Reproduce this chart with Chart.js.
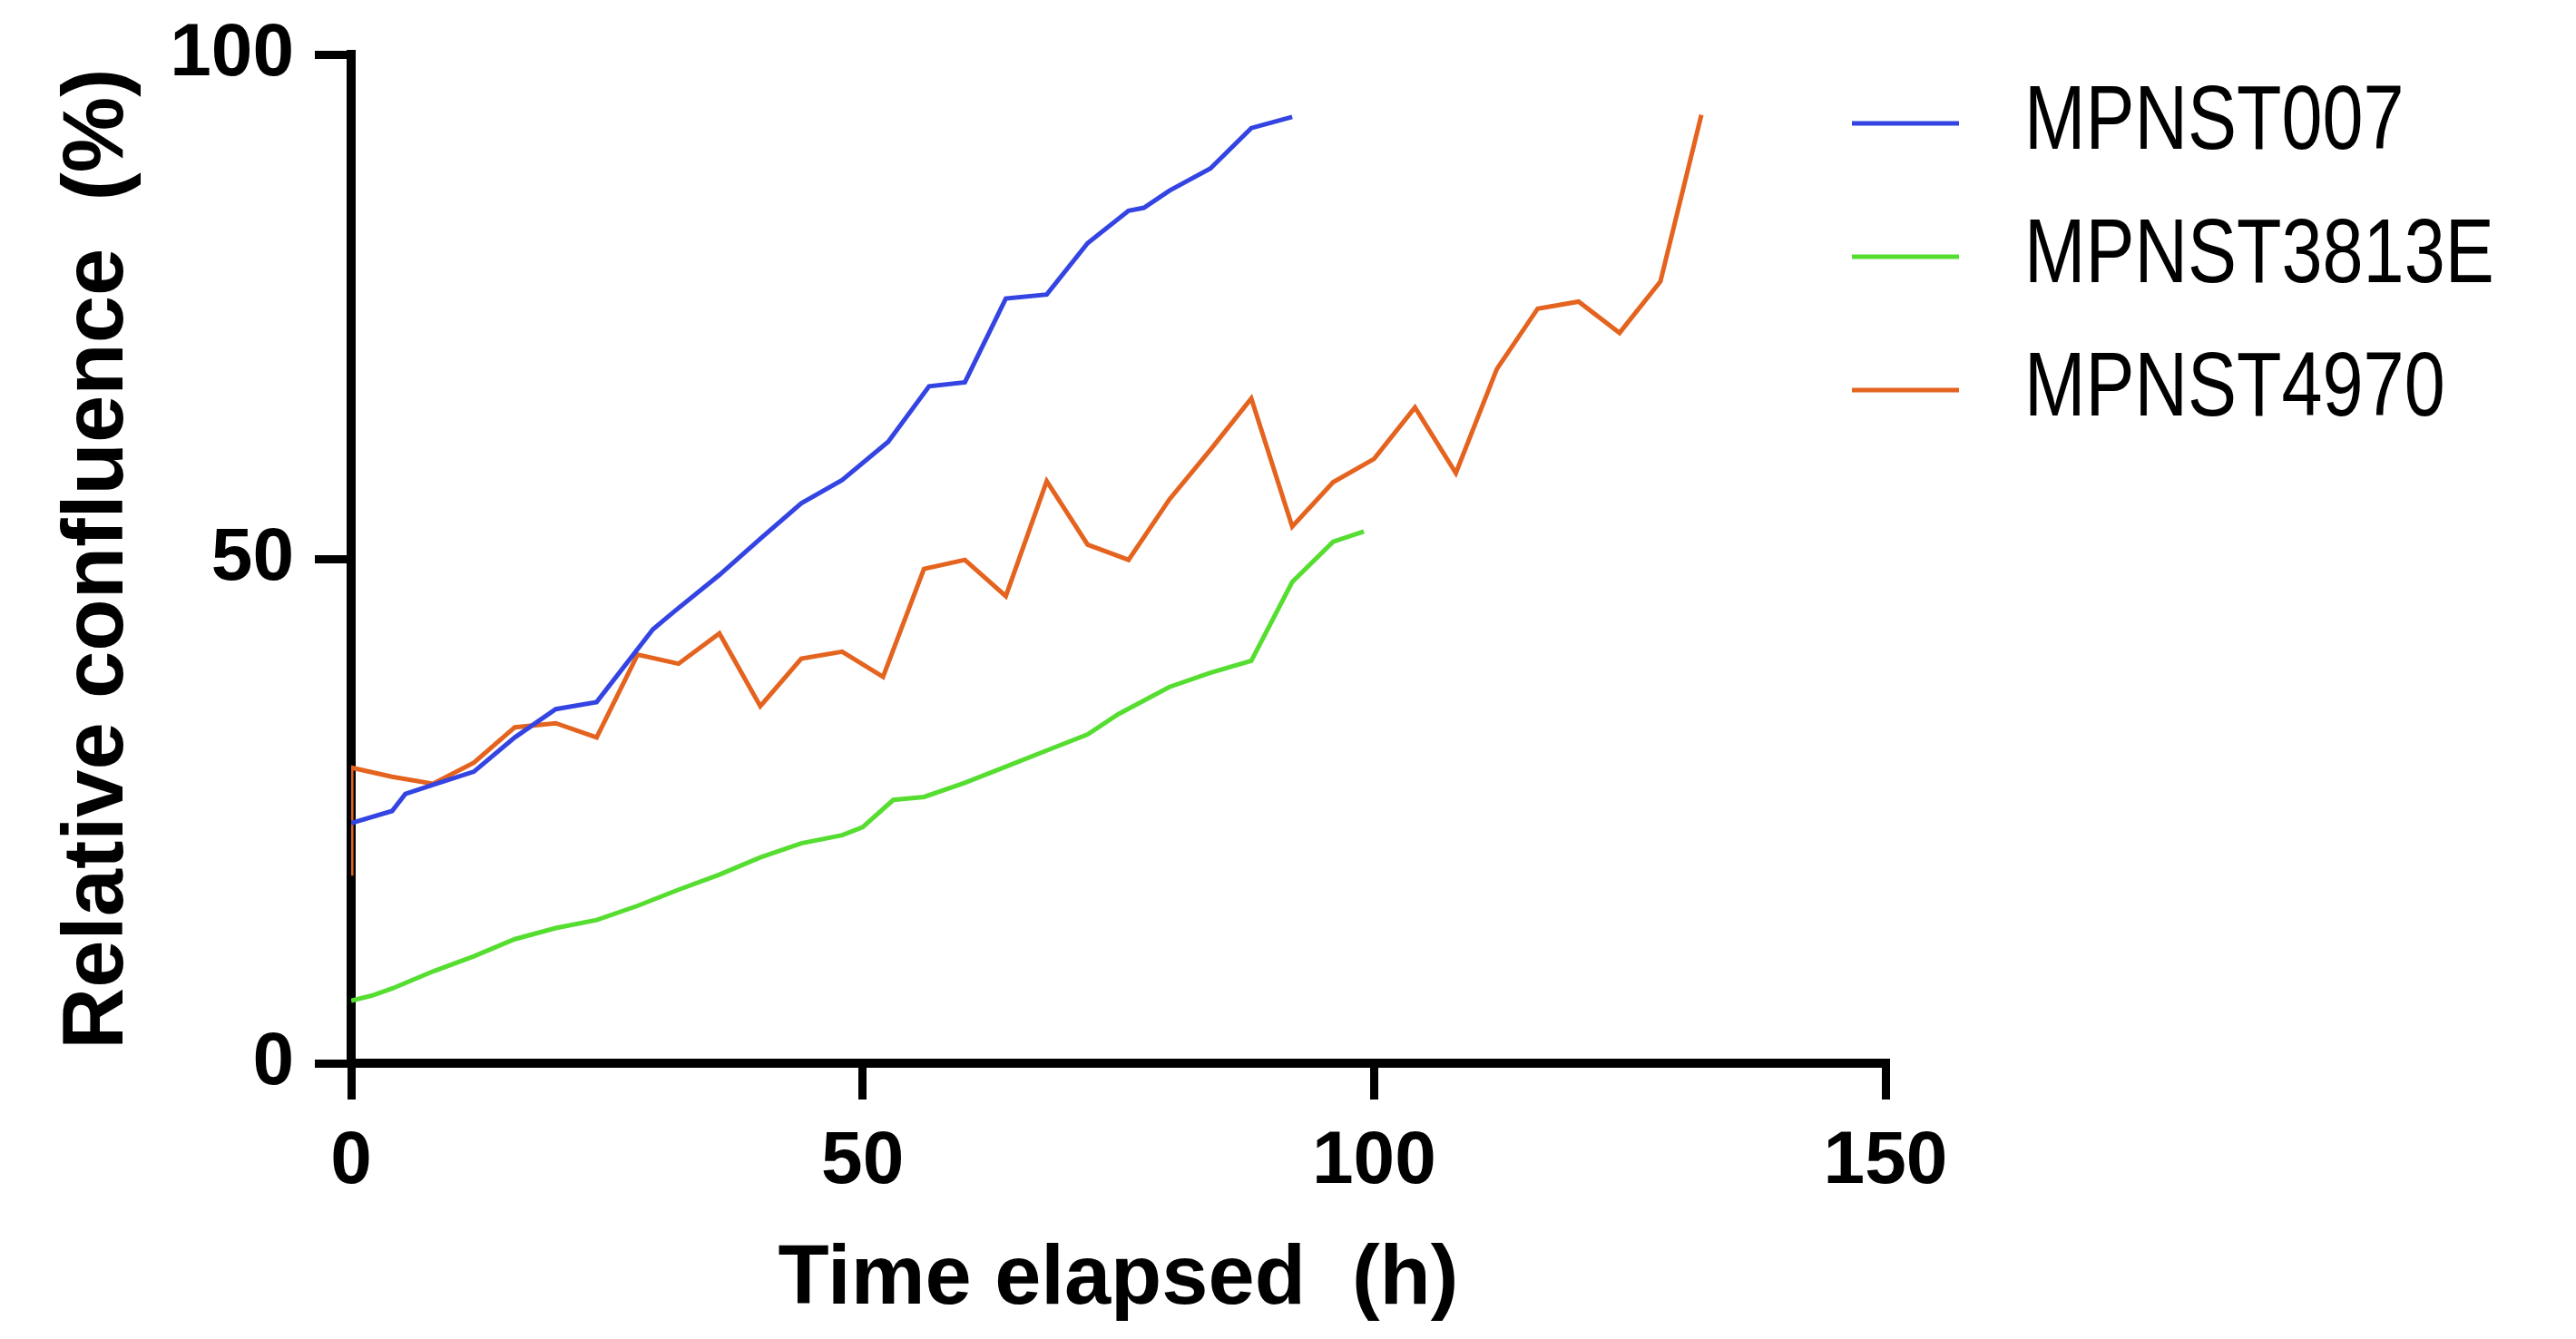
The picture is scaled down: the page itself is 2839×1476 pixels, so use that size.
<!DOCTYPE html>
<html>
<head>
<meta charset="utf-8">
<script src="https://cdn.jsdelivr.net/npm/chart.js@4/dist/chart.umd.min.js"></script>
<style>
  html, body { margin: 0; padding: 0; background: #fff; }
  canvas { display: block; }
</style>
</head>
<body>
<canvas id="grafico" width="2839" height="1476"></canvas>
<script>
// Series names
const seriesNames = ['MPNST007', 'MPNST3813E', 'MPNST4970'];

// MPNST007 (blue)
const timeBlue = [0, 4, 5.3, 8, 12, 16, 20, 24, 29.5, 31.5, 36, 40, 44, 48, 52.5, 56.5, 60, 64, 68, 72, 76, 77.5, 80, 84, 88, 92];
const confBlue = [23.8, 25.0, 26.7, 27.6, 28.9, 32.3, 35.1, 35.8, 43.0, 44.7, 48.4, 52.0, 55.5, 57.8, 61.6, 67.1, 67.5, 75.8, 76.2, 81.3, 84.5, 84.8, 86.5, 88.7, 92.7, 93.8];

// MPNST3813E (green)
const timeGreen = [0, 2, 4, 8, 12, 16, 20, 24, 28, 32, 36, 40, 44, 48, 50, 53, 56, 60, 64, 68, 72, 75, 80, 84, 88, 92, 96, 99];
const confGreen = [6.2, 6.7, 7.4, 9.1, 10.6, 12.3, 13.4, 14.2, 15.6, 17.2, 18.7, 20.4, 21.8, 22.6, 23.4, 26.1, 26.4, 27.8, 29.4, 31.0, 32.6, 34.6, 37.3, 38.7, 39.9, 47.7, 51.7, 52.7];

// MPNST4970 (orange)
const timeOrange = [0, 0, 4, 8, 12, 16, 20, 24, 28, 32, 36, 40, 44, 48, 52, 56, 60, 64, 68, 72, 76, 80, 84, 88, 92, 96, 100, 104, 108, 112, 116, 120, 124, 128, 132];
const confOrange = [18.6, 29.3, 28.4, 27.7, 29.8, 33.3, 33.7, 32.3, 40.5, 39.6, 42.6, 35.4, 40.1, 40.8, 38.3, 49.0, 49.9, 46.3, 57.7, 51.4, 49.9, 55.9, 60.8, 65.9, 53.2, 57.6, 59.9, 65.0, 58.5, 68.8, 74.8, 75.5, 72.4, 77.5, 94.0];

// Axis ticks and titles
const xTicks = [0, 50, 100, 150];
const yTicks = [0, 50, 100];
const xTitle = 'Time elapsed  (h)';
const yTitle = 'Relative confluence  (%)';

const colores = ['#3344e2', '#55dd30', '#e4631f'];
const fuente = 'Arial, "Liberation Sans", Helvetica, sans-serif';

function puntos(xs, ys) {
    return xs.map((x, i) => ({ x: x, y: ys[i] }));
}

// Leyenda dibujada a mano (fuera del area del grafico), texto algo estrecho
const leyendaPlugin = {
    id: 'leyenda',
    afterDraw(chart) {
        const ctx = chart.ctx;
        ctx.save();
        chart.data.datasets.forEach((ds, i) => {
            const y = 136 + i * 147;
            ctx.strokeStyle = ds.borderColor;
            ctx.lineWidth = 5;
            ctx.beginPath();
            ctx.moveTo(2041, y);
            ctx.lineTo(2159, y);
            ctx.stroke();
            ctx.save();
            ctx.translate(2231, y);
            ctx.scale(0.81, 1);
            ctx.fillStyle = '#000';
            ctx.font = '100px ' + fuente;
            ctx.textBaseline = 'middle';
            ctx.textAlign = 'left';
            ctx.fillText(ds.label, 0, 0);
            ctx.restore();
        });
        ctx.restore();
    }
};

const ctx = document.getElementById('grafico').getContext('2d');
new Chart(ctx, {
    type: 'scatter',
    data: {
        datasets: [
            { label: seriesNames[0], data: puntos(timeBlue, confBlue), borderColor: colores[0] },
            { label: seriesNames[1], data: puntos(timeGreen, confGreen), borderColor: colores[1] },
            { label: seriesNames[2], data: puntos(timeOrange, confOrange), borderColor: colores[2] }
        ].map(d => Object.assign(d, {
            showLine: true,
            borderWidth: 5,
            pointRadius: 0,
            tension: 0,
            fill: false,
            backgroundColor: d.borderColor
        }))
    },
    options: {
        responsive: false,
        animation: false,
        devicePixelRatio: 1,
        layout: { padding: { top: 60, right: 761, left: 0, bottom: 0 } },
        plugins: {
            legend: { display: false },
            tooltip: { enabled: false }
        },
        scales: {
            x: {
                type: 'linear',
                min: 0,
                max: 150,
                afterBuildTicks: s => { s.ticks = xTicks.map(v => ({ value: v })); },
                afterFit: s => { s.height = 304; },
                border: { display: true, color: '#000', width: 10 },
                grid: { drawOnChartArea: false, drawTicks: true, tickLength: 40, color: '#000', lineWidth: 9 },
                ticks: {
                    color: '#000',
                    padding: 20,
                    maxRotation: 0,
                    font: { family: fuente, size: 82, weight: 'bold' }
                },
                title: {
                    display: true,
                    text: xTitle,
                    color: '#000',
                    font: { family: fuente, size: 92, weight: 'bold', lineHeight: 1 },
                    padding: { top: 0, bottom: 18 }
                }
            },
            y: {
                type: 'linear',
                min: 0,
                max: 100,
                afterBuildTicks: s => { s.ticks = yTicks.map(v => ({ value: v })); },
                afterFit: s => { s.width = 387; },
                border: { display: true, color: '#000', width: 10 },
                grid: { drawOnChartArea: false, drawTicks: true, tickLength: 40, color: '#000', lineWidth: 9 },
                ticks: {
                    color: '#000',
                    padding: 23,
                    font: { family: fuente, size: 82, weight: 'bold', lineHeight: 0.6 }
                },
                title: {
                    display: true,
                    text: yTitle,
                    color: '#000',
                    font: { family: fuente, size: 94, weight: 'bold', lineHeight: 1 },
                    padding: { top: 62, bottom: 0 }
                }
            }
        }
    },
    plugins: [leyendaPlugin]
});
</script>
</body>
</html>
